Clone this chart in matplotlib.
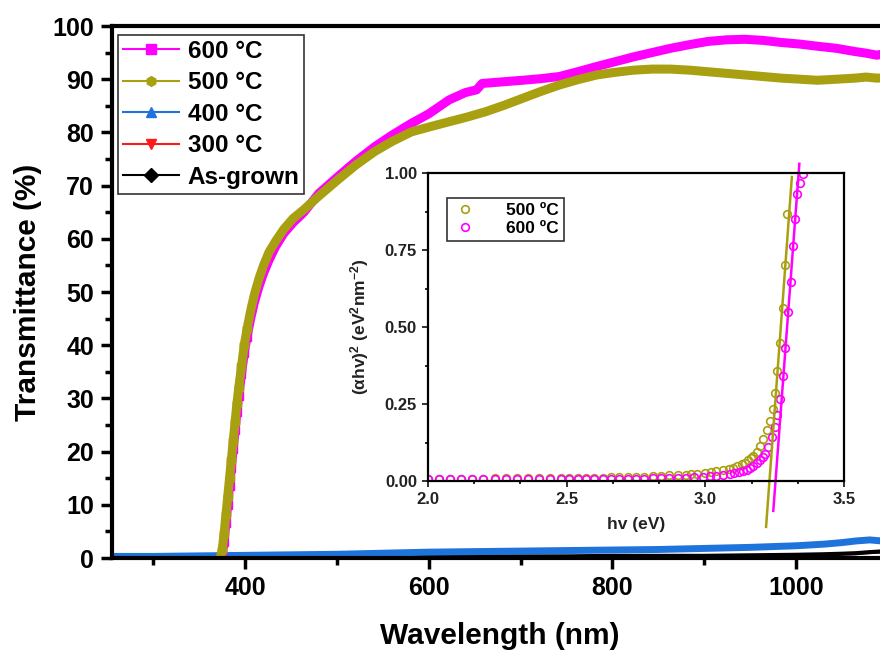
import matplotlib
matplotlib.use('Agg')
import matplotlib.pyplot as plt
from matplotlib.ticker import MultipleLocator, AutoMinorLocator

plt.rcParams['font.family'] = ['Liberation Sans', 'DejaVu Sans']
plt.rcParams['font.weight'] = 'bold'
plt.rcParams['mathtext.fontset'] = 'custom'
plt.rcParams['mathtext.rm'] = 'Liberation Sans:bold'
plt.rcParams['mathtext.it'] = 'Liberation Sans:bold'
plt.rcParams['mathtext.bf'] = 'Liberation Sans:bold'

# main spectra (wavelength nm, transmittance %)
wl_600 = [373, 375, 377, 379, 381, 383, 385, 387, 389, 391, 393, 396, 399, 402, 406, 410, 415,
          420, 426, 433, 442, 452, 464, 480, 501, 520, 541, 560, 581, 600, 622, 640, 652, 658,
          680, 702, 722, 742, 762, 783, 803, 823, 843, 863, 884, 904, 924, 944, 964, 984,
          1004, 1023, 1044, 1064, 1076, 1088, 1100]
t_600 = [0.0, 0.5, 3.0, 6.5, 10.0, 13.5, 17.0, 20.5, 24.0, 27.5, 30.5, 34.5, 38.5, 41.5, 45.0,
         48.0, 51.0, 53.5, 56.0, 58.5, 61.0, 63.0, 65.0, 68.5, 71.7, 74.5, 77.3, 79.5, 81.7,
         83.5, 86.1, 87.5, 88.0, 89.2, 89.5, 89.8, 90.1, 90.5, 91.4, 92.4, 93.3, 94.2, 95.0,
         95.8, 96.5, 97.1, 97.4, 97.5, 97.3, 96.9, 96.6, 96.2, 95.8, 95.2, 94.9, 94.5, 95.0]

wl_500 = [373, 375, 377, 379, 381, 383, 385, 387, 389, 391, 393, 396, 399, 402, 406, 410, 415,
          420, 426, 433, 442, 452, 464, 480, 501, 520, 541, 560, 581, 600, 622, 642, 662, 682,
          702, 722, 742, 762, 783, 803, 823, 843, 863, 884, 904, 924, 944, 964, 984,
          1004, 1023, 1044, 1064, 1076, 1088, 1100]
t_500 = [0.0, 1.5, 4.5, 8.0, 11.5, 15.0, 18.5, 22.0, 25.5, 29.0, 32.0, 36.0, 40.0, 43.0, 46.5,
         49.5, 52.5, 55.0, 57.5, 59.5, 61.8, 63.8, 65.5, 68.0, 71.1, 73.8, 76.4, 78.3, 80.1,
         81.0, 82.0, 82.9, 83.9, 85.1, 86.4, 87.7, 88.9, 89.9, 90.8, 91.3, 91.7, 91.9, 91.9,
         91.7, 91.4, 91.1, 90.8, 90.5, 90.2, 90.0, 89.8, 90.0, 90.2, 90.4, 90.2, 90.3]

wl_low = [255, 300, 350, 400, 450, 500, 550, 600, 650, 700, 750, 800, 850, 900, 950, 1000,
          1030, 1050, 1065, 1080, 1100]
t_400 = [0.3, 0.3, 0.4, 0.5, 0.6, 0.7, 0.9, 1.1, 1.2, 1.3, 1.4, 1.5, 1.6, 1.8, 2.0, 2.3,
         2.6, 2.9, 3.2, 3.4, 3.1]
t_300 = [0.1, 0.1, 0.1, 0.1, 0.1, 0.2, 0.2, 0.2, 0.2, 0.2, 0.2, 0.3, 0.3, 0.3, 0.4, 0.5,
         0.6, 0.7, 0.8, 1.0, 1.2]
t_asg = [0.2, 0.2, 0.2, 0.2, 0.2, 0.3, 0.3, 0.3, 0.3, 0.3, 0.3, 0.4, 0.4, 0.4, 0.5, 0.6,
         0.7, 0.8, 0.9, 1.1, 1.3]

# inset Tauc data
hv_500 = [2.00, 2.04, 2.08, 2.12, 2.16, 2.20, 2.24, 2.28, 2.32, 2.36, 2.40, 2.44, 2.48, 2.51,
          2.54, 2.57, 2.60, 2.63, 2.66, 2.69, 2.72, 2.75, 2.78, 2.81, 2.84, 2.87, 2.90, 2.93,
          2.95, 2.97, 3.00, 3.02, 3.04, 3.065, 3.085, 3.10, 3.115, 3.131, 3.143, 3.155, 3.165,
          3.173, 3.185, 3.197, 3.209, 3.223, 3.233, 3.243, 3.251, 3.259, 3.269, 3.279, 3.288,
          3.296]
a_500 = [0.008, 0.008, 0.008, 0.008, 0.008, 0.008, 0.009, 0.009, 0.009, 0.009, 0.009, 0.010,
         0.010, 0.010, 0.010, 0.011, 0.011, 0.011, 0.012, 0.012, 0.013, 0.013, 0.014, 0.015,
         0.016, 0.018, 0.019, 0.021, 0.023, 0.024, 0.026, 0.028, 0.031, 0.035, 0.039, 0.043,
         0.048, 0.054, 0.060, 0.067, 0.074, 0.080, 0.094, 0.113, 0.137, 0.164, 0.194, 0.235,
         0.287, 0.357, 0.448, 0.562, 0.702, 0.868]
hv_600 = [2.00, 2.04, 2.08, 2.12, 2.16, 2.20, 2.24, 2.28, 2.32, 2.36, 2.40, 2.44, 2.48, 2.51,
          2.54, 2.57, 2.60, 2.63, 2.66, 2.69, 2.72, 2.75, 2.78, 2.81, 2.84, 2.87, 2.90, 2.93,
          2.96, 2.99, 3.016, 3.04, 3.065, 3.089, 3.105, 3.12, 3.137, 3.15, 3.162, 3.173, 3.187,
          3.197, 3.207, 3.215, 3.227, 3.239, 3.251, 3.259, 3.269, 3.279, 3.288, 3.299, 3.308,
          3.315, 3.323, 3.332, 3.341, 3.353]
a_600 = [0.005, 0.005, 0.005, 0.005, 0.005, 0.005, 0.005, 0.005, 0.005, 0.005, 0.006, 0.006,
         0.006, 0.006, 0.006, 0.006, 0.006, 0.007, 0.007, 0.007, 0.007, 0.008, 0.008, 0.009,
         0.009, 0.010, 0.010, 0.011, 0.012, 0.013, 0.015, 0.017, 0.019, 0.022, 0.025, 0.028,
         0.032, 0.037, 0.042, 0.048, 0.058, 0.067, 0.078, 0.089, 0.110, 0.143, 0.175, 0.213,
         0.267, 0.340, 0.432, 0.549, 0.646, 0.762, 0.852, 0.933, 0.968, 0.998]
fit_500_x = [3.219, 3.312]
fit_500_y = [-0.149, 0.987]
fit_600_x = [3.245, 3.339]
fit_600_y = [-0.097, 1.03]

c600 = '#FF00FF'
c500 = '#A8A010'
c400 = '#1F74DC'
c300 = '#FF1A1A'
casg = '#000000'

fig = plt.figure(figsize=(8.8, 6.52), dpi=100)
ax = fig.add_axes([112 / 880, 94 / 652, 776 / 880, 532 / 652])

# markers only visible on the steep absorption edge, band elsewhere
edge_600 = [i for i, w in enumerate(wl_600) if w < 405]
edge_500 = [i for i, w in enumerate(wl_500) if w < 405]

ax.plot(wl_low, t_300, color=c300, lw=2, marker='v', ms=3, markevery=[0], label='300 °C')
ax.plot(wl_low, t_asg, color=casg, lw=3, marker='D', ms=3, markevery=[0], label='As-grown')
ax.plot(wl_low, t_400, color=c400, lw=5, marker='^', ms=3, markevery=[0], label='400 °C')
ax.plot(wl_600, t_600, color=c600, lw=6.5, marker='s', ms=6, markevery=edge_600,
        label='600 °C')
ax.plot(wl_500, t_500, color=c500, lw=6.5, marker='h', ms=7, markevery=edge_500,
        label='500 °C')

ax.set_xlim(255, 1100)
ax.set_ylim(0, 100)
ax.xaxis.set_major_locator(MultipleLocator(200))
ax.xaxis.set_minor_locator(MultipleLocator(100))
ax.yaxis.set_major_locator(MultipleLocator(10))
ax.yaxis.set_minor_locator(MultipleLocator(5))
ax.tick_params(which='major', direction='out', length=8, width=2.5, labelsize=18, pad=5)
ax.tick_params(which='minor', direction='out', length=5, width=2.5)
for s in ax.spines.values():
    s.set_linewidth(3)
ax.set_xlabel('Wavelength (nm)', fontsize=21.5, fontweight='bold', labelpad=16)
ax.set_ylabel('Transmittance (%)', fontsize=21.5, fontweight='bold', labelpad=7)

handles, labels = ax.get_legend_handles_labels()
order = [3, 4, 2, 0, 1]
leg = ax.legend([handles[i] for i in order], [labels[i] for i in order],
                loc='upper left', bbox_to_anchor=(0.002, 0.992), fontsize=17.5,
                frameon=True, fancybox=False, edgecolor='black', handlelength=2.3,
                borderpad=0.2, labelspacing=0.35, handletextpad=0.35, borderaxespad=0.2)
leg.get_frame().set_linewidth(1.2)
for h in leg.get_lines():
    h.set_linewidth(1.5)
    h.set_markersize(7)

# inset
ins = fig.add_axes([428 / 880, 171 / 652, 416 / 880, 308 / 652])
ins.plot(hv_500, a_500, linestyle='none', marker='o', mfc='none', mec=c500, mew=1.2, ms=5.5,
         label='500 ºC')
ins.plot(hv_600, a_600, linestyle='none', marker='o', mfc='none', mec=c600, mew=1.2, ms=5.5,
         label='600 ºC')
ins.plot(fit_500_x, fit_500_y, color=c500, lw=1.8, clip_on=False)
ins.plot(fit_600_x, fit_600_y, color=c600, lw=1.8, clip_on=False)
ins.set_xlim(2.0, 3.5)
ins.set_ylim(0, 1.0)
ins.set_xticks([2.0, 2.5, 3.0, 3.5])
ins.set_xticklabels(['2.0', '2.5', '3.0', '3.5'])
ins.set_yticks([0, 0.25, 0.5, 0.75, 1.0])
ins.set_yticklabels(['0.00', '0.25', '0.50', '0.75', '1.00'])
ins.xaxis.set_minor_locator(AutoMinorLocator(3))
ins.yaxis.set_minor_locator(AutoMinorLocator(2))
ins.tick_params(which='major', direction='out', length=4, width=1.3, labelsize=12,
                colors='#222222', pad=4)
ins.tick_params(which='minor', direction='out', length=2.5, width=1.2)
for s in ins.spines.values():
    s.set_linewidth(1.6)
ins.set_xlabel('hv (eV)', fontsize=12.5, fontweight='bold', color='#222222', labelpad=7)
ins.set_ylabel('(αhv)$^2$ (eV$^2$nm$^{-2}$)', fontsize=12.5, fontweight='bold',
               color='#222222', labelpad=10)
ileg = ins.legend(loc='upper left', bbox_to_anchor=(0.045, 0.92), fontsize=12.5,
                  frameon=True, fancybox=False, edgecolor='black', handlelength=1.5,
                  borderpad=0.3, labelspacing=0.15, handletextpad=1.6, borderaxespad=0)
ileg.get_frame().set_linewidth(1.2)

fig.savefig('out.png', dpi=100)
